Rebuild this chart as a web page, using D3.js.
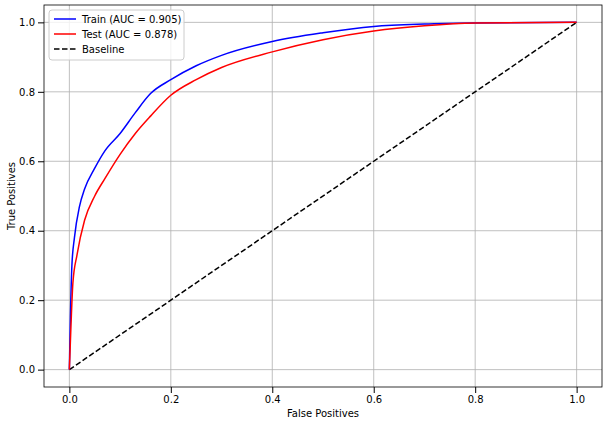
<!DOCTYPE html>
<html><head><meta charset="utf-8">
<script src="https://cdn.jsdelivr.net/npm/d3@7"></script>
<style>body{margin:0;background:#fff}text{font-family:"DejaVu Sans",sans-serif}</style>
</head><body><svg width="609" height="425"></svg>
<script>
var trainFpr = [0, 0.002, 0.005, 0.01, 0.02, 0.03, 0.05, 0.07, 0.1, 0.13, 0.16, 0.2, 0.25, 0.3, 0.4, 0.5, 0.6, 0.7, 0.8, 1];
var trainTpr = [0, 0.15, 0.3, 0.38, 0.47, 0.52, 0.58, 0.63, 0.68, 0.74, 0.795, 0.835, 0.875, 0.905, 0.945, 0.97, 0.988, 0.995, 0.998, 1];
var testFpr = [0, 0.003, 0.007, 0.015, 0.03, 0.05, 0.07, 0.1, 0.13, 0.16, 0.2, 0.25, 0.3, 0.4, 0.5, 0.6, 0.7, 0.8, 1];
var testTpr = [0, 0.12, 0.25, 0.33, 0.43, 0.5, 0.55, 0.62, 0.68, 0.73, 0.79, 0.835, 0.87, 0.915, 0.95, 0.975, 0.99, 0.998, 1];
var ticks = [0, 0.2, 0.4, 0.6, 0.8, 1.0];
var legendLabels = ["Train (AUC = 0.905)", "Test (AUC = 0.878)", "Baseline"];

var svg = d3.select("svg"),
    x = d3.scaleLinear().domain([-0.05, 1.05]).range([44, 602]),
    y = d3.scaleLinear().domain([-0.05, 1.05]).range([387, 5]);

// grid
svg.append("g").selectAll("line").data(ticks).enter().append("line")
    .attr("x1", function(d) { return x(d); }).attr("x2", function(d) { return x(d); })
    .attr("y1", 5).attr("y2", 387).attr("stroke", "#b0b0b0").attr("stroke-width", 0.8);
svg.append("g").selectAll("line").data(ticks).enter().append("line")
    .attr("y1", function(d) { return y(d); }).attr("y2", function(d) { return y(d); })
    .attr("x1", 44).attr("x2", 602).attr("stroke", "#b0b0b0").attr("stroke-width", 0.8);

var xAxis = svg.append("g").attr("transform", "translate(0,387)")
    .call(d3.axisBottom(x).tickValues(ticks).tickFormat(d3.format(".1f")).tickSizeOuter(0));
var yAxis = svg.append("g").attr("transform", "translate(44,0)")
    .call(d3.axisLeft(y).tickValues(ticks).tickFormat(d3.format(".1f")).tickSizeOuter(0));
[xAxis, yAxis].forEach(function(a) {
    a.selectAll("text").attr("font-size", 10).attr("fill", "#000");
    a.select(".domain").remove();
});
svg.append("rect").attr("x", 44).attr("y", 5).attr("width", 558).attr("height", 382)
    .attr("fill", "none").attr("stroke", "#000").attr("stroke-width", 0.8);

var line = d3.line().x(function(d) { return x(d[0]); }).y(function(d) { return y(d[1]); });
svg.append("path").datum([[0, 0], [1, 1]]).attr("d", line).attr("fill", "none")
    .attr("stroke", "#000").attr("stroke-width", 1.5).attr("stroke-dasharray", "5.5,2.5");
svg.append("path").datum(d3.zip(trainFpr, trainTpr)).attr("d", d3.line().curve(d3.curveMonotoneX)
    .x(function(d) { return x(d[0]); }).y(function(d) { return y(d[1]); }))
    .attr("fill", "none").attr("stroke", "blue").attr("stroke-width", 1.5);
svg.append("path").datum(d3.zip(testFpr, testTpr)).attr("d", d3.line().curve(d3.curveMonotoneX)
    .x(function(d) { return x(d[0]); }).y(function(d) { return y(d[1]); }))
    .attr("fill", "none").attr("stroke", "red").attr("stroke-width", 1.5);

svg.append("text").attr("x", 323).attr("y", 417).attr("text-anchor", "middle").attr("font-size", 10).text("False Positives");
svg.append("text").attr("transform", "translate(15,196) rotate(-90)").attr("text-anchor", "middle").attr("font-size", 10).text("True Positives");

// legend
var lg = svg.append("g");
lg.append("rect").attr("x", 49).attr("y", 10).attr("width", 135).attr("height", 50).attr("rx", 3)
    .attr("fill", "#fff").attr("fill-opacity", 0.8).attr("stroke", "#ccc");
var colors = ["blue", "red", "#000"];
legendLabels.forEach(function(l, i) {
    var yy = 19 + i * 15;
    lg.append("line").attr("x1", 54).attr("x2", 76).attr("y1", yy).attr("y2", yy)
        .attr("stroke", colors[i]).attr("stroke-width", 1.5).attr("stroke-dasharray", i === 2 ? "5.5,2.5" : null);
    lg.append("text").attr("x", 82).attr("y", yy + 3.5).attr("font-size", 10).text(l);
});
</script></body></html>
